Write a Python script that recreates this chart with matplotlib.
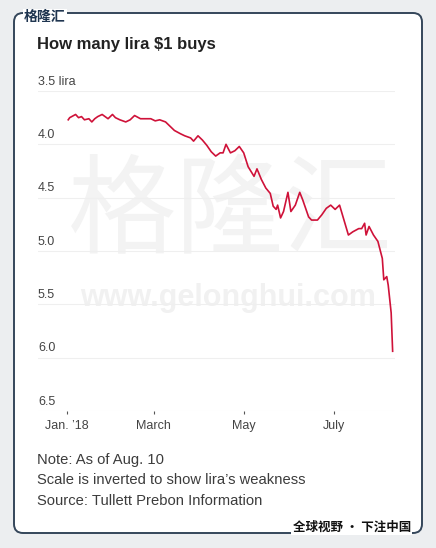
import matplotlib
matplotlib.use('Agg')
import matplotlib.pyplot as plt
import matplotlib.transforms as mtransforms
from matplotlib.patches import FancyBboxPatch
import pandas as pd


# Days after Jan. 1 2018 and the lira per dollar.
days = [1, 2, 6, 8, 10, 12, 15, 17, 19, 21, 24, 26, 28, 31, 33, 36, 40, 43,
        46, 50, 53, 57, 60, 63, 67, 70, 73, 77, 80, 84, 86, 89, 92, 95, 98,
        101, 104, 106, 108, 111, 114, 117, 120, 123, 127, 129, 132, 135, 138,
        140, 142, 143, 145, 147, 150, 152, 155, 158, 160, 164, 166, 170, 173,
        176, 179, 182, 185, 188, 191, 194, 198, 200, 202, 203, 205, 208, 211,
        214, 215, 217, 218, 220, 221]
lira = [3.77, 3.75, 3.72, 3.75, 3.74, 3.77, 3.76, 3.79, 3.76, 3.74, 3.72,
        3.74, 3.76, 3.72, 3.75, 3.77, 3.79, 3.77, 3.73, 3.76, 3.76, 3.76,
        3.78, 3.77, 3.79, 3.83, 3.87, 3.90, 3.92, 3.94, 3.97, 3.92, 3.96,
        4.01, 4.07, 4.11, 4.08, 4.08, 4.00, 4.08, 4.06, 4.02, 4.08, 4.21,
        4.30, 4.23, 4.33, 4.41, 4.46, 4.58, 4.61, 4.57, 4.69, 4.63, 4.45,
        4.63, 4.57, 4.45, 4.52, 4.68, 4.71, 4.71, 4.66, 4.60, 4.57, 4.61,
        4.57, 4.71, 4.85, 4.82, 4.79, 4.79, 4.74, 4.85, 4.77, 4.85, 4.91,
        5.07, 5.27, 5.24, 5.32, 5.58, 5.94]

ytick_vals = [3.5, 4.0, 4.5, 5.0, 5.5, 6.0, 6.5]
ytick_labels = ['3.5 lira', '4.0', '4.5', '5.0', '5.5', '6.0', '6.5']
xtick_dates = ['2018-01-01', '2018-03-01', '2018-05-01', '2018-07-01']
xtick_labels = ['Jan. \u201918', 'March', 'May', 'July']

title = 'How many lira $1 buys'
notes = ['Note: As of Aug. 10',
         'Scale is inverted to show lira\u2019s weakness',
         'Source: Tullett Prebon Information']

W, H = 436, 548
cjk = ['Noto Sans CJK SC', 'DejaVu Sans']
plt.rcParams['font.family'] = ['Liberation Sans', 'DejaVu Sans']


def px(x, y):
    # pixel position (from top left) to figure fraction
    return x / W, 1 - y / H


fig = plt.figure(figsize=(W / 100, H / 100), dpi=100, facecolor='#eceef0')

# White card with a rounded dark frame.
card = FancyBboxPatch((14, H - 533), 408, 520, boxstyle='round,pad=0,rounding_size=9',
                      facecolor='white', edgecolor='#34465a', lw=1.4,
                      transform=mtransforms.IdentityTransform(), zorder=-3)
fig.add_artist(card)

# Faint watermark behind the chart.
fig.text(*px(231, 215), '格隆汇', family=cjk, fontsize=78, color='#f3f3f3',
         ha='center', va='center', zorder=-2)
fig.text(*px(228, 298), 'www.gelonghui.com', fontsize=22, weight='bold',
         color='#f1f1f1', ha='center', va='center', zorder=-2)

# Logo marks on the frame.
fig.text(*px(24, 17), '格隆汇', family=cjk, fontsize=10, weight='bold',
         color='#1f3550', ha='left', va='center',
         bbox=dict(facecolor='white', edgecolor='none', pad=1))
fig.text(*px(411, 527), '全球视野 · 下注中国', family=cjk, fontsize=9, weight='bold',
         color='#111111', ha='right', va='center',
         bbox=dict(facecolor='white', edgecolor='none', pad=1))

fig.text(*px(37, 45), title, fontsize=12, weight='bold', color='#222222',
         ha='left', va='center')
for i, line in enumerate(notes):
    fig.text(*px(37, 460 + i * 20.5), line, fontsize=10.6, color='#3c3c3c',
             ha='left', va='center')

# Chart area.
ax = fig.add_axes([38 / W, (H - 411) / H, 357 / W, 320 / H])
ax.set_facecolor('none')
for s in ax.spines.values():
    s.set_visible(False)

start = pd.Timestamp('2018-01-01')
dates = start + pd.to_timedelta(days, unit='D')
ax.plot(dates, lira, color='#cf1239', lw=1.2, solid_joinstyle='round', zorder=3)

ax.set_xlim(start - pd.Timedelta(days=19.5), start + pd.Timedelta(days=222.6))
ax.set_ylim(6.5, 3.5)

ax.set_yticks(ytick_vals)
ax.grid(axis='y', color='#efefef', lw=0.8)
ax.tick_params(axis='y', length=0, labelleft=False)
for v, lab in zip(ytick_vals, ytick_labels):
    ax.annotate(lab, xy=(0, v), xycoords=('axes fraction', 'data'),
                xytext=(0, 2.5), textcoords='offset points',
                ha='left', va='bottom', fontsize=9, color='#444444')

ax.set_xticks(pd.to_datetime(xtick_dates))
ax.set_xticklabels(xtick_labels)
ax.tick_params(axis='x', length=2.5, width=0.8, color='#555555', pad=4,
               labelsize=9, labelcolor='#444444')

fig.savefig('out.png', dpi=100, facecolor=fig.get_facecolor())
